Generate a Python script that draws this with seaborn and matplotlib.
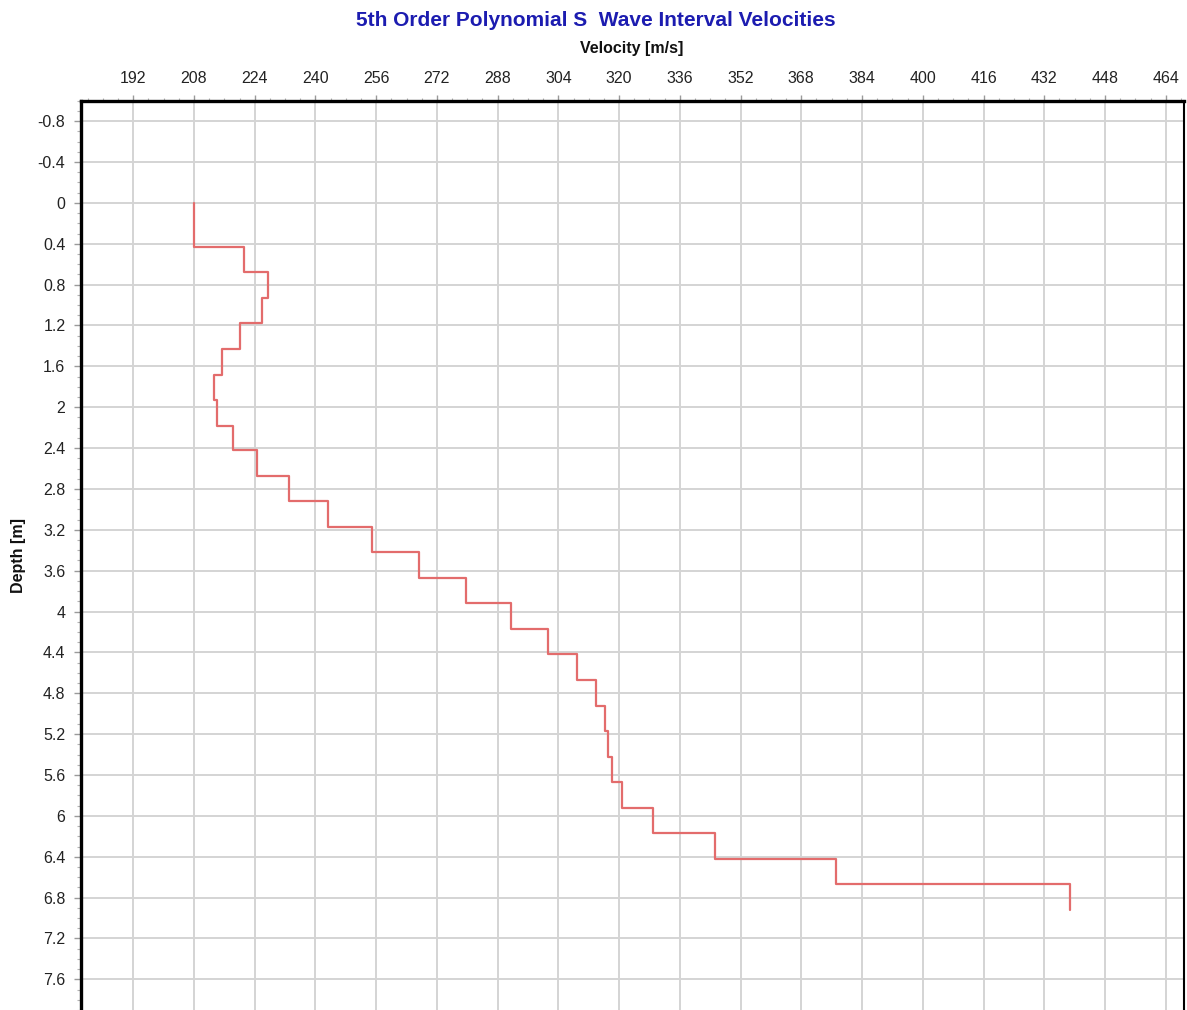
import numpy as np
import pandas as pd
import matplotlib
matplotlib.use("Agg")
import matplotlib.pyplot as plt
import seaborn as sns
from matplotlib.ticker import FixedLocator, MultipleLocator

# Interval velocity model: top of each layer (m) and its S-wave velocity (m/s)
layer_top_m = [0.00, 0.43, 0.68, 0.93, 1.18, 1.43, 1.68, 1.93, 2.18, 2.42,
               2.67, 2.92, 3.17, 3.42, 3.67, 3.92, 4.17, 4.42, 4.67, 4.92,
               5.17, 5.42, 5.67, 5.92, 6.17, 6.42, 6.67]
layer_bottom_m = 6.92
interval_velocity_ms = [208.0, 221.3, 227.4, 226.0, 220.2, 215.5, 213.2, 214.0, 218.2, 224.7,
                        233.1, 243.3, 255.0, 267.3, 279.6, 291.5, 301.3, 308.9, 313.9, 316.3,
                        317.2, 318.0, 320.7, 328.8, 345.3, 377.1, 438.9]

velocity_ticks = [192, 208, 224, 240, 256, 272, 288, 304, 320, 336,
                  352, 368, 384, 400, 416, 432, 448, 464]
depth_ticks = [-0.8, -0.4, 0.0, 0.4, 0.8, 1.2, 1.6, 2.0, 2.4, 2.8, 3.2, 3.6,
               4.0, 4.4, 4.8, 5.2, 5.6, 6.0, 6.4, 6.8, 7.2, 7.6]

title_text = "5th Order Polynomial S  Wave Interval Velocities"
x_label = "Velocity [m/s]"
y_label = "Depth [m]"

sns.set_theme(style="white")
plt.rcParams["font.family"] = ["Liberation Sans", "DejaVu Sans"]

W, H = 1187, 1010
fig = plt.figure(figsize=(W / 100, H / 100), dpi=100)
fig.patch.set_facecolor("white")

ax_left, ax_right, ax_top, ax_bottom = 80.7, 1184.3, 100.7, 1010.0
ax = fig.add_axes([ax_left / W, 1 - ax_bottom / H,
                   (ax_right - ax_left) / W, (ax_bottom - ax_top) / H])

# Build the stepped profile: each layer is a vertical segment at its velocity
edges = layer_top_m + [layer_bottom_m]
step_depth = np.column_stack([edges[:-1], edges[1:]]).ravel()
step_vel = np.repeat(interval_velocity_ms, 2)
profile = pd.DataFrame({"Velocity": step_vel, "Depth": step_depth})

sns.lineplot(data=profile, x="Velocity", y="Depth", sort=False, estimator=None,
             color="#e36c6c", linewidth=1.6, ax=ax, zorder=3)

ax.set_xlim(178.15, 468.9)
ax.set_ylim(7.90, -1.0)

# Axis on top, depth increasing downward
ax.xaxis.tick_top()
ax.xaxis.set_label_position("top")
ax.xaxis.set_major_locator(FixedLocator(velocity_ticks))
ax.xaxis.set_minor_locator(MultipleLocator(4))
ax.set_xticklabels([str(v) for v in velocity_ticks])
ax.yaxis.set_major_locator(FixedLocator(depth_ticks))
ax.yaxis.set_minor_locator(MultipleLocator(0.1))
ax.set_yticklabels([f"{d:g}" for d in depth_ticks])

ax.tick_params(axis="x", which="major", top=True, bottom=False, length=4, width=1,
               color="#9a9a9a", labelsize=11.5, labelcolor="#222222", pad=6.5)
ax.tick_params(axis="x", which="minor", top=True, bottom=False, length=2.5, width=0.8,
               color="#b4b4b4")
ax.tick_params(axis="y", which="major", left=True, right=False, length=5, width=1,
               color="#9a9a9a", labelsize=11.5, labelcolor="#222222", pad=6)
ax.tick_params(axis="y", which="minor", left=True, right=False, length=3, width=0.8,
               color="#b4b4b4")

ax.grid(True, which="major", color="#d4d4d4", linewidth=1.4)
ax.set_axisbelow(True)

for side in ("left", "top"):
    ax.spines[side].set_visible(True)
    ax.spines[side].set_color("black")
    ax.spines[side].set_linewidth(2.4)
ax.spines["right"].set_visible(True)
ax.spines["right"].set_color("black")
ax.spines["right"].set_linewidth(1.5)
ax.spines["bottom"].set_visible(False)

ax.set_xlabel(x_label, fontsize=11.5, fontweight="bold", color="#111111")
ax.xaxis.set_label_coords((632 - ax_left) / (ax_right - ax_left),
                          1 + (ax_top - 48) / (ax_bottom - ax_top))
ax.xaxis.label.set_va("center")
ax.set_ylabel(y_label, fontsize=11.5, fontweight="bold", color="#111111")
ax.yaxis.set_label_coords(-(ax_left - 18) / (ax_right - ax_left), 0.5)
ax.yaxis.label.set_va("center")

fig.text(596 / W, 1 - 20.5 / H, title_text, ha="center", va="center",
         fontsize=15, fontweight="bold", color="#1c1cb0")

fig.savefig("out.png", dpi=100, facecolor="white")
